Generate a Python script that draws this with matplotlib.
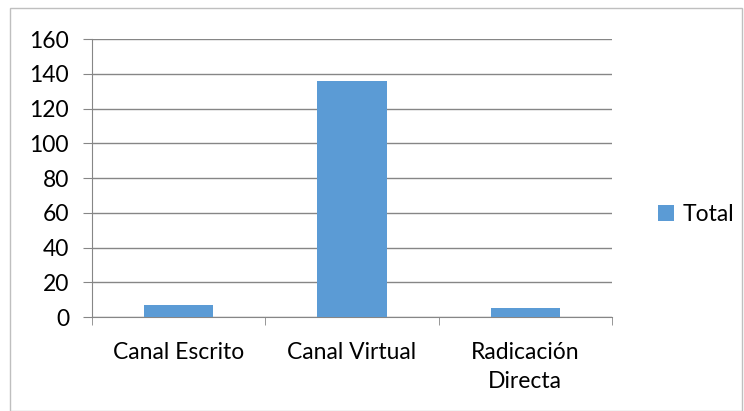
import matplotlib
matplotlib.use("Agg")
import matplotlib.pyplot as plt
from matplotlib.patches import Rectangle

categories = ["Canal Escrito", "Canal Virtual", "Radicación\nDirecta"]
totals = [7, 136, 5]
series_name = "Total"
yticks = [0, 20, 40, 60, 80, 100, 120, 140, 160]

plt.rcParams["font.family"] = ["Lato", "DejaVu Sans"]
FS = 16.5

fig = plt.figure(figsize=(7.44, 4.11), dpi=100)
ax = fig.add_axes([92 / 744, 1 - 317 / 411, 520 / 744, 278 / 411])

x = list(range(len(categories)))
ax.bar(x, totals, width=0.4, color="#5B9BD5", label=series_name, zorder=3)

ax.set_xlim(-0.5, len(categories) - 0.5)
ax.set_ylim(0, 160)
ax.set_yticks(yticks)
ax.yaxis.grid(True, color="#868686", lw=1, zorder=0)
ax.tick_params(axis="y", length=6.5, color="#868686", labelsize=FS, pad=10)

ax.set_xticks(x)
ax.set_xticklabels(categories, fontsize=FS, linespacing=1.45)
ax.tick_params(axis="x", which="major", length=0, pad=18)
ax.set_xticks([i - 0.5 for i in range(len(categories) + 1)], minor=True)
ax.tick_params(axis="x", which="minor", length=6, color="#868686")

for s in ["top", "right"]:
    ax.spines[s].set_visible(False)
for s in ["left", "bottom"]:
    ax.spines[s].set_color("#868686")

ax.legend(loc="center left", bbox_to_anchor=(1.07, 0.37), frameon=False,
          fontsize=FS, handlelength=0.7, handleheight=0.7, handletextpad=0.4,
          borderaxespad=0)

fig.patches.append(Rectangle((10 / 744, 0), 732 / 744, 1 - 8 / 411,
                             transform=fig.transFigure, fill=False,
                             edgecolor="#BFBFBF", lw=1))

fig.savefig("out.png", dpi=100)
